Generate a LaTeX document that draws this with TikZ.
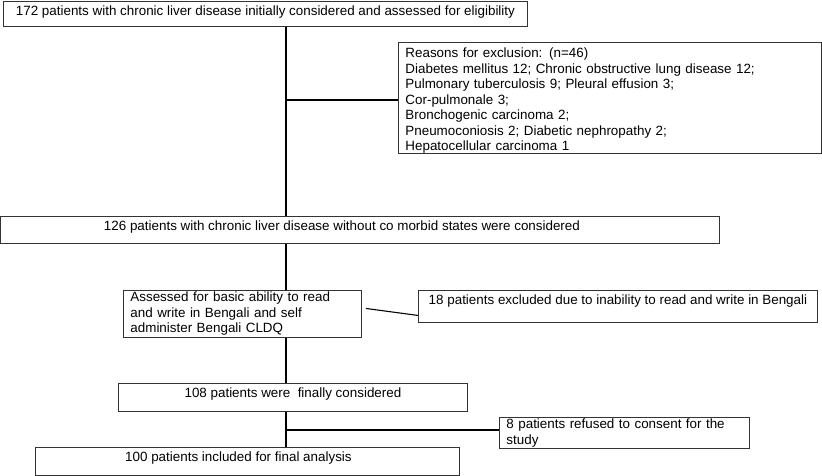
\documentclass[tikz,border=0pt]{standalone}
\usepackage{fontspec}
\setmainfont{Liberation Sans}
\begin{document}
\begin{tikzpicture}[x=1pt,y=-1pt,
    every node/.style={font=\fontsize{13.4}{15.5}\selectfont},
    box/.style={draw=black!80,line width=0.9pt,anchor=north west,inner ysep=0pt},
    onebox/.style={box,text height=14pt,text depth=#1-14pt,minimum height=#1},
    manybox/.style={box,align=left,inner xsep=7pt}]
      \useasboundingbox (0,0) rectangle (822,476);
      \path
        (3,1) node[onebox=25pt,minimum width=524pt] (screened)
          {172 patients with chronic liver disease initially considered and assessed for eligibility}
        (398,42) node[manybox,minimum width=423pt,minimum height=111pt,text width=409pt,
                      text height=15.5pt,text depth=95.5pt] (reasons)
          {Reasons for exclusion: (n=46)\\
           Diabetes mellitus 12; Chronic obstructive lung disease 12;\\
           Pulmonary tuberculosis 9; Pleural effusion 3;\\
           Cor-pulmonale 3;\\
           Bronchogenic carcinoma 2;\\
           Pneumoconiosis 2; Diabetic nephropathy 2;\\
           Hepatocellular carcinoma 1}
        (0,216) node[onebox=27pt,minimum width=719pt] (eligible)
          {126 patients with chronic liver disease without co morbid states were considered\kern36pt}
        (123,290) node[manybox,minimum width=238pt,minimum height=47pt,text width=224pt] (literacy)
          {Assessed for basic ability to read\\and write in Bengali and self\\administer Bengali CLDQ}
        (418,290) node[onebox=32pt,minimum width=399pt] (illiterate)
          {18 patients excluded due to inability to read and write in Bengali}
        (118,383) node[onebox=28pt,minimum width=349pt] (considered)
          {108 patients were\ \ finally considered}
        (499,417) node[manybox,minimum width=250pt,minimum height=31pt,text width=236pt] (refused)
          {8 patients refused to consent for the\\study}
        (35,447) node[onebox=28pt,minimum width=424pt] (analysed)
          {100 patients included for final analysis\kern18pt};
      \coordinate (fork1) at (286,100);
      \coordinate (fork2) at (286,430);
      \begin{scope}[line width=1.1pt]
        \draw (screened.south -| fork1) to (eligible.north -| fork1);
        \draw (fork1) to (reasons.west |- fork1);
        \draw (eligible.south -| fork1) to (literacy.north -| fork1);
        \draw ([shift={(4,-5.5)}]literacy.east) to ([yshift=-9pt]illiterate.west);
        \draw (literacy.south -| fork1) to (considered.north -| fork1);
        \draw (considered.south -| fork1) to (analysed.north -| fork1);
        \draw (fork2) to (refused.west |- fork2);
      \end{scope}
    \end{tikzpicture}
\end{document}
